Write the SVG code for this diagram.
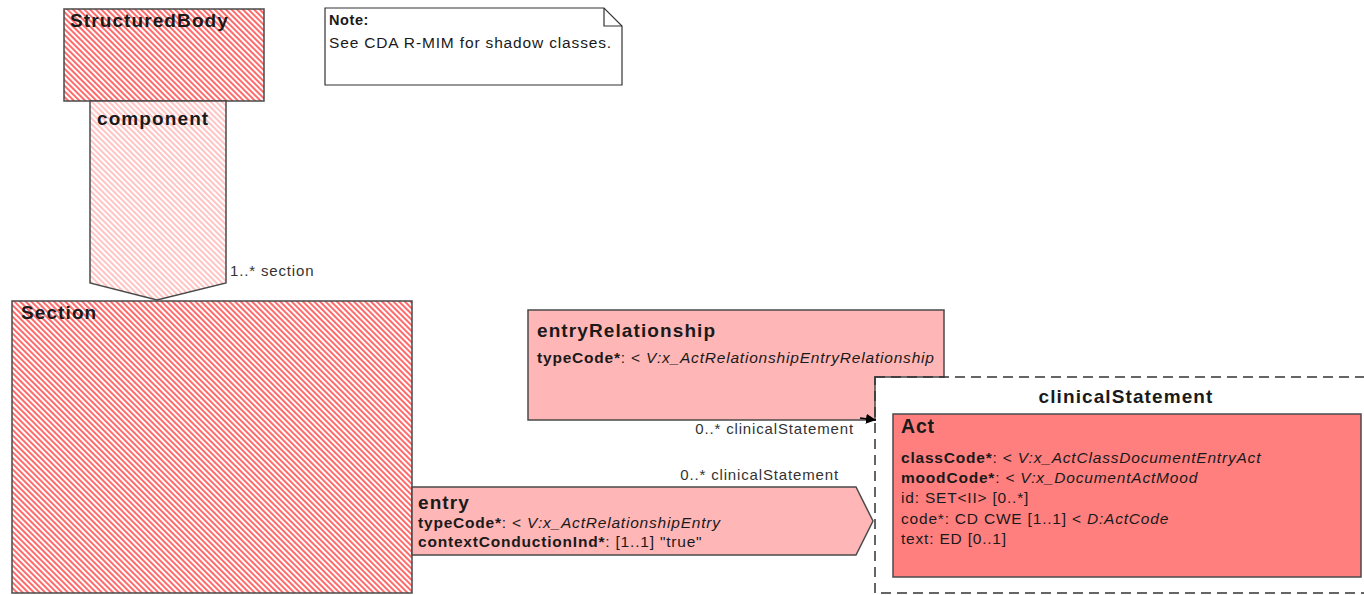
<svg xmlns="http://www.w3.org/2000/svg" width="1364" height="595" viewBox="0 0 1364 595">
<defs>
<pattern id="hatchDark" width="4" height="4" patternUnits="userSpaceOnUse" patternTransform="rotate(-45)">
<rect width="4" height="4" fill="#ffffff"/>
<rect width="2" height="4" fill="#ff6a6a"/>
</pattern>
<pattern id="hatchLight" width="4" height="4" patternUnits="userSpaceOnUse" patternTransform="rotate(-45)">
<rect width="4" height="4" fill="#ffffff"/>
<rect width="2" height="4" fill="#ffc4c4"/>
</pattern>
<marker id="arr" viewBox="0 0 10 10" refX="10" refY="5" markerWidth="10" markerHeight="10" markerUnits="userSpaceOnUse" orient="auto">
<path d="M0,0 L10,5 L0,10 z" fill="#000"/>
</marker>
</defs>
<style>
.t{font-family:"Liberation Sans",Arial,sans-serif;fill:#1a1a1a}
.title{font-size:19px;font-weight:bold;letter-spacing:1.1px}
.attr{font-size:15.5px;letter-spacing:0.8px}
.b{font-weight:bold}
.i{font-style:italic}
.lbl{font-family:"Liberation Sans",Arial,sans-serif;font-size:15px;letter-spacing:0.85px;fill:#333}
.box{stroke:#4a4a4a;stroke-width:1.5}
</style>
<rect width="1364" height="595" fill="#ffffff"/>

<g id="StructuredBody">
<rect class="box" x="64" y="9" width="200" height="92" fill="url(#hatchDark)"/>
<text class="t title" x="70" y="27">StructuredBody</text>
</g>

<g id="note">
<path d="M325,8 L604,8 L622,26 L622,85 L325,85 Z" fill="#ffffff" stroke="#333" stroke-width="1.2"/>
<path d="M604,8 L604,26 L622,26" fill="none" stroke="#333" stroke-width="1.2"/>
<text class="t b" x="329" y="25" style="font-size:14.5px;letter-spacing:0.6px">Note:</text>
<text class="t" x="329" y="48" style="font-size:15.5px;letter-spacing:0.85px">See CDA R-MIM for shadow classes.</text>
</g>

<g id="component">
<path class="box" d="M90,101 L226,101 L226,283 L157,300 L90,283 Z" fill="url(#hatchLight)"/>
<text class="t title" x="97" y="125">component</text>
</g>

<g id="Section">
<rect class="box" x="12" y="301" width="400" height="292" fill="url(#hatchDark)"/>
<text class="t title" x="21" y="319">Section</text>
</g>

<g id="entryRelationship">
<path class="box" d="M528,310 L944,310 L944,377 L875,377 L875,420 L528,420 Z" fill="#ffb6b6"/>
<text class="t title" x="537" y="337">entryRelationship</text>
<text class="t attr" x="537" y="363"><tspan class="b">typeCode*</tspan>: &lt; <tspan class="i">V:x_ActRelationshipEntryRelationship</tspan></text>
</g>

<g id="entry">
<path class="box" d="M412,487 L856,487 L873,521 L856,555 L412,555 Z" fill="#ffb6b6"/>
<text class="t title" x="418" y="509">entry</text>
<text class="t attr" x="418" y="528"><tspan class="b">typeCode*</tspan>: &lt; <tspan class="i">V:x_ActRelationshipEntry</tspan></text>
<text class="t attr" x="418" y="547"><tspan class="b">contextConductionInd*</tspan>: [1..1] "true"</text>
</g>

<g id="clinicalStatement">
<rect x="875" y="377" width="500" height="216" fill="none" stroke="#333" stroke-width="1.5" stroke-dasharray="10,6"/>
<text class="t title" x="1126" y="403" text-anchor="middle">clinicalStatement</text>
</g>

<g id="Act">
<rect class="box" x="893" y="414" width="468" height="163" fill="#ff7f7f"/>
<text class="t" x="901" y="433" style="font-size:19.5px;font-weight:bold;letter-spacing:0.8px">Act</text>
<text class="t attr" x="901" y="463"><tspan class="b">classCode*</tspan>: &lt; <tspan class="i">V:x_ActClassDocumentEntryAct</tspan></text>
<text class="t attr" x="901" y="483"><tspan class="b">moodCode*</tspan>: &lt; <tspan class="i">V:x_DocumentActMood</tspan></text>
<text class="t attr" x="901" y="503">id: SET&lt;II&gt; [0..*]</text>
<text class="t attr" x="901" y="524">code*: CD CWE [1..1] &lt; <tspan class="i">D:ActCode</tspan></text>
<text class="t attr" x="901" y="544">text: ED [0..1]</text>
</g>

<g id="connectors">
<line x1="860" y1="418" x2="876" y2="420" stroke="#000" stroke-width="1.5" marker-end="url(#arr)"/>
<text class="lbl" x="854" y="434" text-anchor="end">0..* clinicalStatement</text>
<text class="lbl" x="839" y="480" text-anchor="end">0..* clinicalStatement</text>
<text class="lbl" x="230" y="276">1..* section</text>
</g>
</svg>
